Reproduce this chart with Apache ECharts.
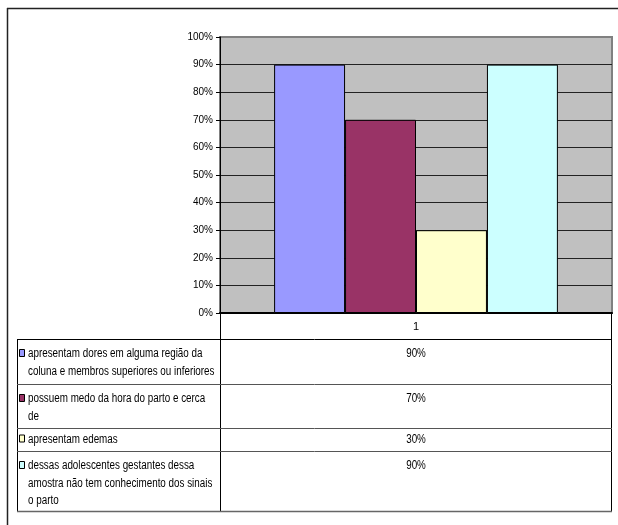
<!DOCTYPE html>
<html><head><meta charset="utf-8">
<script src="https://cdn.jsdelivr.net/npm/echarts@6/dist/echarts.min.js"></script>
<style>html,body{margin:0;padding:0;background:#fff}#c{width:618px;height:525px}</style>
</head><body><div id="c"></div>
<script>
// ---- data ----
const categories = ['1'];
const seriesLines = [
  ['apresentam dores em alguma região da', 'coluna e membros superiores ou inferiores'],
  ['possuem medo da hora do parto e cerca', 'de'],
  ['apresentam edemas'],
  ['dessas adolescentes gestantes dessa', 'amostra não tem conhecimento dos sinais', 'o parto']
];
const seriesNames = seriesLines.map(l => l.join(' '));
const values = [90, 70, 30, 90];
const valueLabels = ['90%', '70%', '30%', '90%'];
const yMin = 0, yMax = 100, yStep = 10;
const colors = ['#9999FF', '#993366', '#FFFFCC', '#CCFFFF'];

// ---- layout ----
const FONT = "'Liberation Sans', Arial, sans-serif";
const gridLeft = 220, gridRight = 612, gridTop = 37, gridBottom = 313;
const tableTop = 339, rowTops = [339, 384, 428, 451], tableBottom = 511, tableLeft = 17;
const lineStep = 17.5;
const SX = 0.82;

const chart = echarts.init(document.getElementById('c'), null, {renderer: 'canvas'});

const series = seriesNames.map((n, i) => ({
  name: n, type: 'bar', data: [values[i]],
  barGap: '0%', barCategoryGap: '27.6%',
  itemStyle: {color: colors[i], borderColor: '#000', borderWidth: 1},
  emphasis: {disabled: true}
}));

const g = [];
// outer frame
g.push({type: 'line', shape: {x1: 7, y1: 8.5, x2: 618, y2: 8.5}, style: {stroke: '#222', lineWidth: 1.5}});
g.push({type: 'line', shape: {x1: 7.5, y1: 8, x2: 7.5, y2: 525}, style: {stroke: '#222', lineWidth: 1.5}});
// table verticals
g.push({type: 'line', shape: {x1: gridLeft + 0.5, y1: gridBottom, x2: gridLeft + 0.5, y2: tableBottom}, style: {stroke: '#000', lineWidth: 1}});
g.push({type: 'line', shape: {x1: gridRight - 0.5, y1: gridBottom, x2: gridRight - 0.5, y2: tableBottom}, style: {stroke: '#000', lineWidth: 1}});
g.push({type: 'line', shape: {x1: tableLeft + 0.5, y1: tableTop, x2: tableLeft + 0.5, y2: tableBottom}, style: {stroke: '#000', lineWidth: 1}});
// table horizontals
g.push({type: 'line', shape: {x1: tableLeft, y1: tableTop + 0.5, x2: gridRight, y2: tableTop + 0.5}, style: {stroke: '#000', lineWidth: 1}});
rowTops.slice(1).forEach(y => g.push({type: 'line', shape: {x1: tableLeft, y1: y + 0.5, x2: gridRight, y2: y + 0.5}, style: {stroke: '#555', lineWidth: 1}}));
g.push({type: 'line', shape: {x1: tableLeft, y1: tableBottom + 0.5, x2: gridRight, y2: tableBottom + 0.5}, style: {stroke: '#666', lineWidth: 1.5}});
// rows
seriesLines.forEach((lines, i) => {
  const top = rowTops[i];
  const bottom = i + 1 < rowTops.length ? rowTops[i + 1] : tableBottom;
  const first = top + Math.min(15, (bottom - top) / 2);
  g.push({type: 'rect', shape: {x: 19.5, y: first - 4.5, width: 5, height: 7}, style: {fill: colors[i], stroke: '#000', lineWidth: 1}});
  lines.forEach((t, k) => g.push({type: 'text', x: 28, y: first + k * lineStep, scaleX: SX,
    style: {text: t, x: 0, y: 0, font: '12px ' + FONT, fill: '#000', textAlign: 'left', textVerticalAlign: 'middle'}}));
  g.push({type: 'text', x: (gridLeft + gridRight) / 2, y: first, scaleX: SX,
    style: {text: valueLabels[i], x: 0, y: 0, font: '12px ' + FONT, fill: '#000', textAlign: 'center', textVerticalAlign: 'middle'}});
});

chart.setOption({
  animation: false,
  backgroundColor: '#fff',
  grid: {left: gridLeft, right: 618 - gridRight, top: gridTop, bottom: 525 - gridBottom, show: true,
         backgroundColor: '#C0C0C0', borderColor: '#808080', borderWidth: 2},
  xAxis: {type: 'category', data: categories,
    axisLine: {lineStyle: {color: '#000', width: 2}}, axisTick: {show: false},
    axisLabel: {color: '#000', fontSize: 11, fontFamily: FONT, margin: 8}},
  yAxis: {type: 'value', min: yMin, max: yMax, interval: yStep,
    axisLine: {show: true, lineStyle: {color: '#000', width: 1}},
    axisTick: {show: true, length: 4, lineStyle: {color: '#000'}},
    axisLabel: {color: '#000', fontSize: 10, fontFamily: FONT, margin: 7, formatter: '{value}%'},
    splitLine: {show: true, lineStyle: {color: ['#000','#222','#222','#222','#222','#222','#222','#222','#222','#222','#808080'], width: 1}}},
  series: series,
  graphic: g
});
</script></body></html>
